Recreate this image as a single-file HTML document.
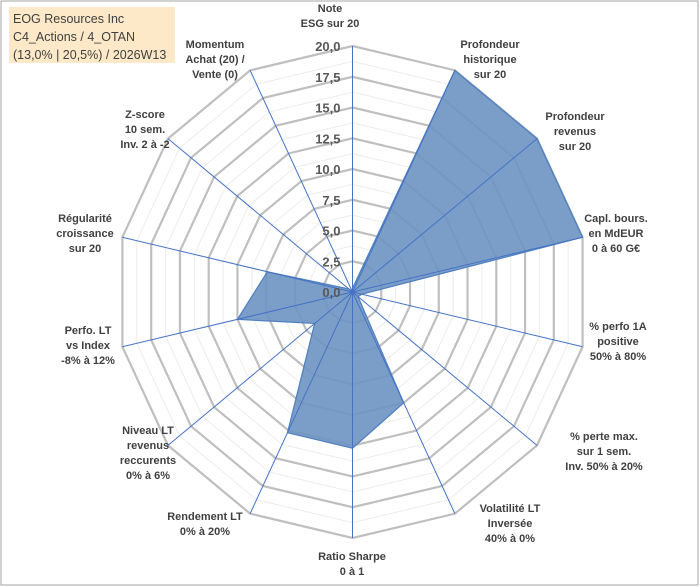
<!DOCTYPE html>
<html><head><meta charset="utf-8"><style>
body{margin:0;background:#fff;}
#wrap{position:relative;width:700px;height:587px;font-family:"Liberation Sans",sans-serif;}
svg{position:absolute;left:0;top:0;}
.lbl{font-weight:bold;font-size:11px;fill:#404040;}
</style></head><body>
<div id="wrap">
<svg id="chart" width="700" height="587">
<rect x="1" y="1" width="697" height="584" fill="#fff" stroke="#a6a6a6"/>
<rect x="9" y="7" width="166" height="56" fill="#fde9c8"/>
<text x="13" y="23" font-size="12.5" fill="#404040">EOG Resources Inc</text>
<text x="13" y="41" font-size="12.5" fill="#404040">C4_Actions / 4_OTAN</text>
<text x="13" y="59" font-size="12.5" fill="#404040">(13,0% | 20,5%) / 2026W13</text>
<g id="grid"></g><g id="series"></g><g id="axes"></g><g id="ticks"></g><g id="labels"></g>
</svg>
</div>
<script>
const categories=[["Note","ESG sur 20"],["Profondeur","historique","sur 20"],["Profondeur","revenus","sur 20"],["Capl. bours.","en MdEUR","0 à 60 G€"],["% perfo 1A","positive","50% à 80%"],["% perte max.","sur 1 sem.","Inv. 50% à 20%"],["Volatilité LT","Inversée","40% à 0%"],["Ratio Sharpe","0 à 1"],["Rendement LT","0% à 20%"],["Niveau LT","revenus","reccurents","0% à 6%"],["Perfo. LT","vs Index","-8% à 12%"],["Régularité","croissance","sur 20"],["Z-score","10 sem.","Inv. 2 à -2"],["Momentum","Achat (20) /","Vente (0)"]];
const values=[0.3,20,20,20,0.8,0.6,10,12.7,12.7,4.1,10,7.4,0.4,0];
const tickLabels=["0,0","2,5","5,0","7,5","10,0","12,5","15,0","17,5","20,0"];
const tickValues=[0,2.5,5,7.5,10,12.5,15,17.5,20];
const labelPos=[[330,12],[490,48],[575,120],[616,222],[618,330],[604,440],[510,512],[352,560],[205,520],[148,434],[88,334],[85,222],[145,118],[215,48]];
const NS="http://www.w3.org/2000/svg";
const cx=352.5,cy=292,RX=236,RY=246,maxV=20,n=categories.length;
function ang(i){return i*2*Math.PI/n;}
function px(i,v){return cx+Math.sin(ang(i))*v/maxV*RX;}
function py(i,v){return cy-Math.cos(ang(i))*v/maxV*RY;}
function mk(tag,attrs,parent){const e=document.createElementNS(NS,tag);for(const k in attrs)e.setAttribute(k,attrs[k]);document.getElementById(parent).appendChild(e);return e;}
for(let k=1;k<=16;k++){const v=k*1.25;let pts=[];for(let i=0;i<n;i++)pts.push(px(i,v)+","+py(i,v));
const major=k%2===0;
const g=mk("polygon",{points:pts.join(" "),fill:"none",stroke:major?"#bfbfbf":"#ececec","stroke-width":major?2.2:1},"grid");

}
let sp=[];for(let i=0;i<n;i++)sp.push(px(i,values[i])+","+py(i,values[i]));
const poly=mk("polygon",{points:sp.join(" "),fill:"#6d93c3","fill-opacity":"0.9",stroke:"#4f7fbf","stroke-width":1.2},"series");


for(let i=0;i<n;i++){const l=mk("line",{x1:cx,y1:cy,x2:px(i,maxV),y2:py(i,maxV),stroke:"#4472c4","stroke-width":1},"axes");

}
tickValues.forEach((v,j)=>{const t=mk("text",{x:cx-12,y:cy-v/maxV*RY+5,"text-anchor":"end","font-size":"13","font-weight":"bold",fill:"#595959"},"ticks");t.textContent=tickLabels[j];

});
categories.forEach((c,i)=>{const [x,y]=labelPos[i];const t=mk("text",{x:x,y:y,"text-anchor":"middle",class:"lbl"},"labels");


c.forEach((line,j)=>{const s=document.createElementNS(NS,"tspan");s.setAttribute("x",x);s.setAttribute("dy",j===0?0:15);s.textContent=line;t.appendChild(s);});});
</script>
</body></html>
